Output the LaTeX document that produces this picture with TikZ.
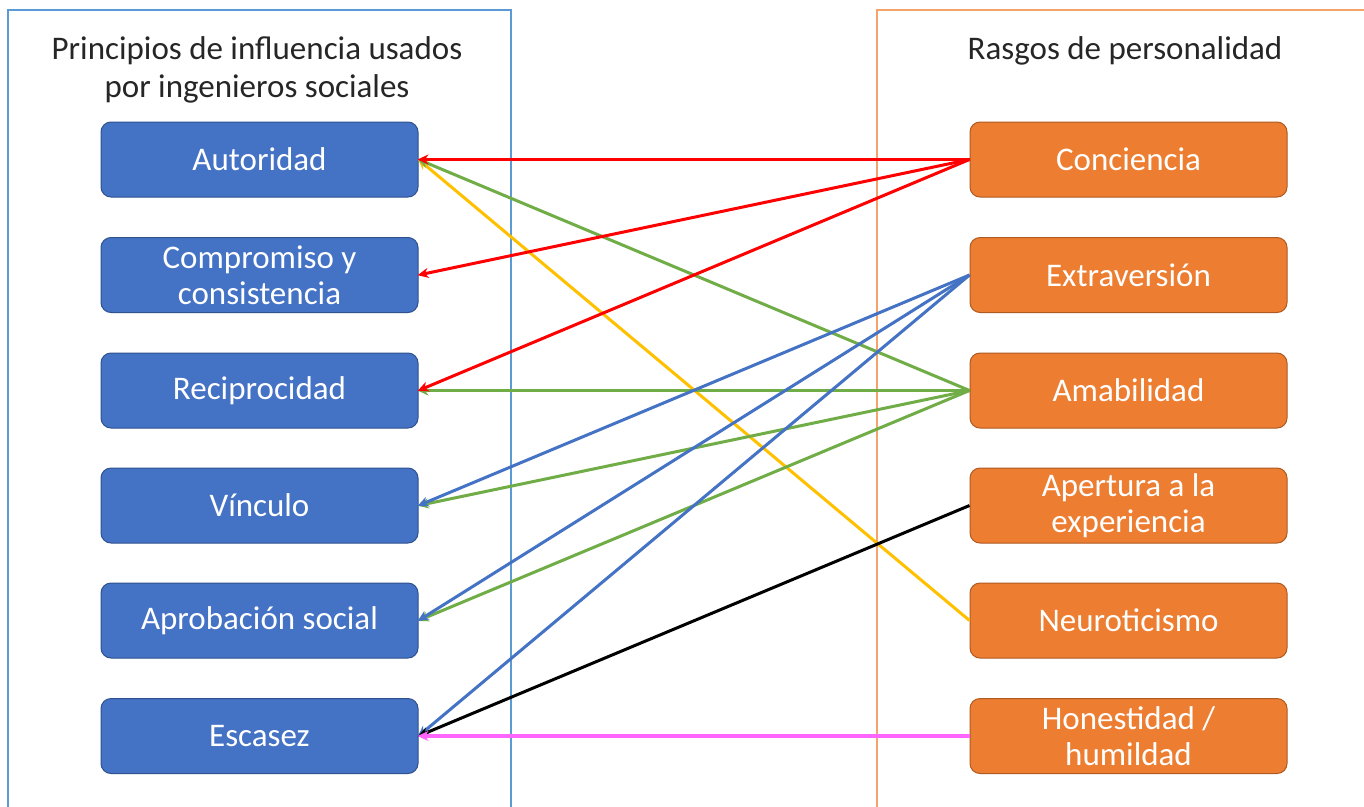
\documentclass[tikz,border=0pt]{standalone}
\usepackage{fontspec}
\setmainfont{Carlito}
\usetikzlibrary{arrows.meta}
\definecolor{bfill}{HTML}{4472C4}
\definecolor{bdraw}{HTML}{2F528F}
\definecolor{ofill}{HTML}{ED7D31}
\definecolor{odraw}{HTML}{AE5A21}
\definecolor{lframe}{HTML}{5B9BD5}
\definecolor{rframe}{HTML}{F4A46B}
\definecolor{cred}{HTML}{FF0000}
\definecolor{cgreen}{HTML}{70AD47}
\definecolor{cblue}{HTML}{4472C4}
\definecolor{cyellow}{HTML}{FFC000}
\definecolor{cmag}{HTML}{FF66FF}
\definecolor{ctitle}{HTML}{262626}
\tikzset{
  box/.style={rounded corners=10pt, minimum width=317pt, minimum height=75pt, line width=1pt, text=white, font=\fontsize{33}{36}\selectfont, align=center, inner sep=0pt},
  lbox/.style={box, fill=bfill, draw=bdraw},
  rbox/.style={box, fill=ofill, draw=odraw},
  ttl/.style={text=ctitle, font=\fontsize{33}{38}\selectfont, align=center, inner sep=0pt},
  conn/.style={line width=3pt, -{Stealth[length=11pt,width=10pt]}, shorten >=-1pt}
}
\begin{document}
\begin{tikzpicture}[x=1pt,y=-1pt]
\useasboundingbox (0,0) rectangle (1364,806);
\fill[white] (0,0) rectangle (1364,806);
\draw[lframe, line width=1.3pt] (8,820) -- (8,10) -- (511,10) -- (511,820);
\draw[rframe, line width=1.3pt] (877,820) -- (877,10) -- (1380,10);
\node[ttl] (lt) at (257,70) {Principios de influencia usados\\por ingenieros sociales};
\node[ttl] (rt) at (1125,51) {Rasgos de personalidad};
\node[lbox] (aut) at (259.5,159.5) {Autoridad};
\node[lbox] (com) at (259.5,275) {Compromiso y\\consistencia};
\node[lbox] (rec) at (259.5,390.5) {Reciprocidad};
\node[lbox] (vin) at (259.5,505.5) {Vínculo};
\node[lbox] (apr) at (259.5,620.5) {Aprobación social};
\node[lbox] (esc) at (259.5,736) {Escasez};
\node[rbox] (con) at (1128.5,159.5) {Conciencia};
\node[rbox] (ext) at (1128.5,275) {Extraversión};
\node[rbox] (ama) at (1128.5,390.5) {Amabilidad};
\node[rbox] (ape) at (1128.5,505.5) {Apertura a la\\experiencia};
\node[rbox] (neu) at (1128.5,620.5) {Neuroticismo};
\node[rbox] (hon) at (1128.5,736) {Honestidad /\\humildad};
\draw[conn, cyellow] (neu.west) -- (aut.east);
\draw[conn, cgreen] (ama.west) -- (aut.east);
\draw[conn, cgreen] (ama.west) -- (rec.east);
\draw[conn, cgreen] (ama.west) -- (vin.east);
\draw[conn, cgreen] (ama.west) -- (apr.east);
\draw[conn, cblue] (ext.west) -- (vin.east);
\draw[conn, cblue] (ext.west) -- (apr.east);
\draw[conn, cblue] (ext.west) -- (esc.east);
\draw[conn, black] (ape.west) -- (esc.east);
\draw[conn, cmag, line width=3.5pt] (hon.west) -- (esc.east);
\draw[conn, cred] (con.west) -- (aut.east);
\draw[conn, cred] (con.west) -- (com.east);
\draw[conn, cred] (con.west) -- (rec.east);
\end{tikzpicture}
\end{document}
